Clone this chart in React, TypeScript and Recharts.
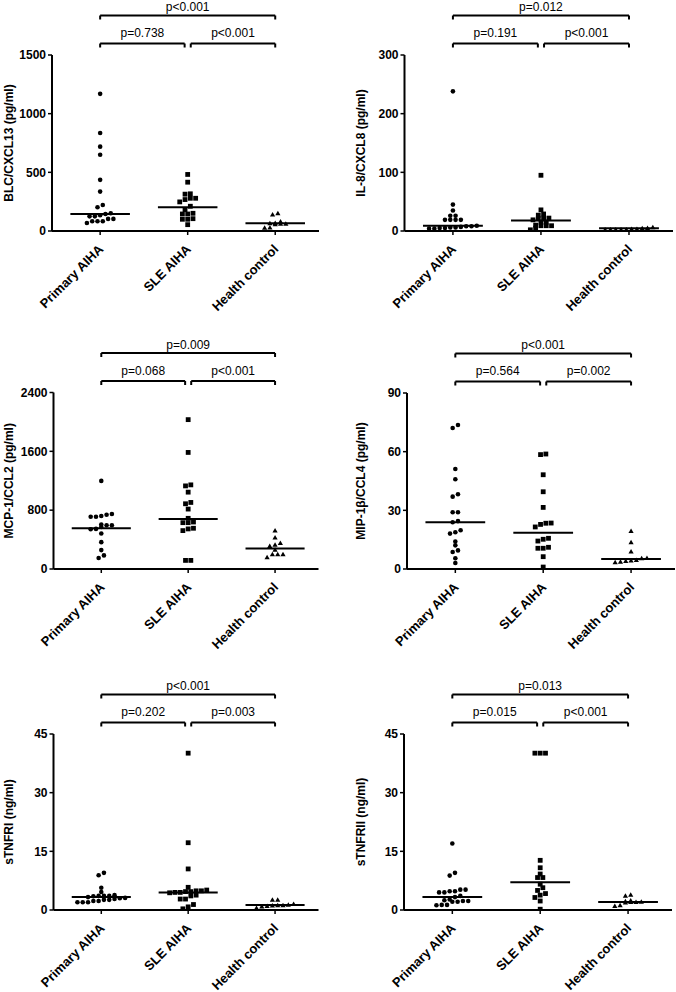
import { ReferenceLine, Scatter, ScatterChart, XAxis, YAxis } from "recharts";

// groups along the x axis
const groups = ["Primary AIHA", "SLE AIHA", "Health control"];

// BLC/CXCL13 (pg/ml)
const blcPrimary = [1169, 835, 719, 650, 436, 336, 222, 202, 151, 145, 134, 125, 125, 103, 103, 83, 83, 83, 68];
const blcSle = [482, 416, 317, 314, 279, 279, 268, 248, 211, 182, 151, 145, 145, 105, 100, 100, 54];
const blcHealth = [151, 140, 80, 68, 66, 62, 62, 57, 30, 26];
const blcMedians = [145, 202, 66];
const blcTicks = [0, 500, 1000, 1500];
const blcP = ["p=0.738", "p<0.001", "p<0.001"];

// IL-8/CXCL8 (pg/ml)
const il8Primary = [238, 45, 35, 26, 26, 19, 19, 19, 19, 9, 8, 8, 7, 6, 6, 5, 5, 4, 4];
const il8Sle = [95, 36, 29, 27, 22, 22, 21, 19, 15, 15, 10, 9, 9, 9, 5, 2];
const il8Health = [6.3, 5, 4.6, 3.4, 3.4, 2.3, 2.3, 2.3, 2.3, 2.3];
const il8Medians = [9, 18, 4.5];
const il8Ticks = [0, 100, 200, 300];
const il8P = ["p=0.191", "p<0.001", "p=0.012"];

// MCP-1/CCL2 (pg/ml)
const mcpPrimary = [1198, 747, 738, 720, 711, 711, 604, 595, 595, 572, 545, 540, 482, 365, 257, 185, 149];
const mcpSle = [2031, 1585, 1144, 1130, 1045, 905, 887, 815, 689, 639, 630, 630, 554, 545, 522, 117, 117];
const mcpHealth = [522, 428, 351, 329, 311, 261, 198, 198, 198, 158];
const mcpMedians = [554, 680, 279];
const mcpTicks = [0, 800, 1600, 2400];
const mcpP = ["p=0.068", "p<0.001", "p=0.009"];

// MIP-1β/CCL4 (pg/ml)
const mipPrimary = [73.6, 72.1, 51.1, 45.9, 38.2, 37, 29, 29, 24.5, 23.9, 19.8, 18.8, 18.1, 14.1, 12.1, 9.5, 8.7, 5.5, 3.1];
const mipSle = [58.8, 58.5, 48.2, 39.5, 31.5, 23.5, 23.4, 22.8, 21.5, 15.7, 15.2, 14.3, 11.1, 10.6, 10.6, 6.3, 1.0];
const mipHealth = [19.4, 13.6, 8.9, 5.6, 5.5, 4.6, 4.3, 4.1, 3.7, 3.4];
const mipMedians = [23.9, 18.6, 5.1];
const mipTicks = [0, 30, 60, 90];
const mipP = ["p=0.564", "p=0.002", "p<0.001"];

// sTNFRI (ng/ml)
const tnfr1Primary = [9.5, 8.9, 5.7, 4.6, 3.8, 3.6, 3.6, 3.6, 3.5, 3.3, 3.1, 3.0, 2.8, 2.6, 2.6, 2.3, 2.3, 2.0, 2.0, 2.0];
const tnfr1Sle = [40.1, 17.2, 10.5, 5.8, 5.1, 4.9, 4.9, 4.7, 4.7, 4.5, 4.5, 4.4, 3.8, 3.6, 2.8, 2.8, 1.4, 0.8, 0.3];
const tnfr1Health = [2.6, 2.6, 1.5, 1.3, 1.2, 1.2, 1.1, 1.0, 0.9, 0.5];
const tnfr1Medians = [3.3, 4.45, 1.25];
const tnfr1Ticks = [0, 15, 30, 45];
const tnfr1P = ["p=0.202", "p=0.003", "p<0.001"];

// sTNFRII (ng/ml)
const tnfr2Primary = [17.0, 9.5, 8.8, 5.2, 5.2, 4.8, 4.8, 4.5, 4.5, 3.6, 3.3, 2.7, 2.5, 2.3, 2.3, 2.1, 2.1, 1.3, 1.3, 1.2];
const tnfr2Sle = [40.1, 40.1, 40.1, 12.7, 10.8, 9.2, 8.3, 8.3, 6.6, 5.7, 5.0, 4.2, 3.8, 3.2, 2.3, 0.2];
const tnfr2Health = [3.9, 3.6, 2.4, 2.2, 2.1, 2.0, 2.0, 1.9, 1.2, 1.0];
const tnfr2Medians = [3.33, 7.1, 2.05];
const tnfr2Ticks = [0, 15, 30, 45];
const tnfr2P = ["p=0.015", "p<0.001", "p=0.013"];

const FONT = "'Liberation Sans', Arial, Helvetica, sans-serif";
const X_DOMAIN: [number, number] = [-0.55, 2.5];
const W = 338;
const X_AXIS_H = 70;

type Panel = {
  label: string;
  values: number[][];
  medians: number[];
  ticks: number[];
  pvals: string[];
  x0: number;
  y0: number;
  h: number;
  left: number;
  right: number;
  top: number;
  bottom: number;
  labelX: number;
};

const panels: Panel[] = [
  { label: "BLC/CXCL13 (pg/ml)", values: [blcPrimary, blcSle, blcHealth], medians: blcMedians, ticks: blcTicks, pvals: blcP,
    x0: 0, y0: 0, h: 330, left: 52, right: 319, top: 55, bottom: 231, labelX: 8.5 },
  { label: "IL-8/CXCL8 (pg/ml)", values: [il8Primary, il8Sle, il8Health], medians: il8Medians, ticks: il8Ticks, pvals: il8P,
    x0: 338, y0: 0, h: 330, left: 404.5, right: 673, top: 55, bottom: 231, labelX: 23 },
  { label: "MCP-1/CCL2 (pg/ml)", values: [mcpPrimary, mcpSle, mcpHealth], medians: mcpMedians, ticks: mcpTicks, pvals: mcpP,
    x0: 0, y0: 330, h: 330, left: 53.5, right: 318.5, top: 392.5, bottom: 569, labelX: 8.5 },
  { label: "MIP-1\u03b2/CCL4 (pg/ml)", values: [mipPrimary, mipSle, mipHealth], medians: mipMedians, ticks: mipTicks, pvals: mipP,
    x0: 338, y0: 330, h: 330, left: 407, right: 675, top: 393, bottom: 569, labelX: 23 },
  { label: "sTNFRI (ng/ml)", values: [tnfr1Primary, tnfr1Sle, tnfr1Health], medians: tnfr1Medians, ticks: tnfr1Ticks, pvals: tnfr1P,
    x0: 0, y0: 660, h: 332, left: 53.5, right: 318.5, top: 734, bottom: 910, labelX: 8.5 },
  { label: "sTNFRII (ng/ml)", values: [tnfr2Primary, tnfr2Sle, tnfr2Health], medians: tnfr2Medians, ticks: tnfr2Ticks, pvals: tnfr2P,
    x0: 338, y0: 660, h: 332, left: 404, right: 672, top: 734, bottom: 910, labelX: 23 },
];

// column-scatter layout: points close in value share a row and are spread sideways
function swarm(values: number[], pxPerUnit: number, catPx: number) {
  const order = values.map((_, i) => i).sort((a, b) => values[a] - values[b]);
  const rows: number[][] = [];
  let cur: number[] = [];
  let start = 0;
  let prev = 0;
  for (const i of order) {
    const v = values[i];
    if (cur.length && ((v - start) * pxPerUnit > 4.6 || (v - prev) * pxPerUnit > 3.5)) {
      rows.push(cur);
      cur = [];
    }
    if (!cur.length) start = v;
    cur.push(i);
    prev = v;
  }
  if (cur.length) rows.push(cur);
  const step = 5.3 / catPx;
  const off = new Array(values.length).fill(0);
  rows.forEach((r) => r.forEach((i, k) => (off[i] = (k - (r.length - 1) / 2) * step)));
  return off;
}

const Dot = (p: any) => <circle cx={p.cx} cy={p.cy} r={2.3} fill="#000" />;
const Sq = (p: any) => <rect x={p.cx - 2.4} y={p.cy - 2.4} width={4.8} height={4.8} fill="#000" />;
const Tri = (p: any) => (
  <polygon points={`${p.cx},${p.cy - 2.6} ${p.cx + 2.6},${p.cy + 1.9} ${p.cx - 2.6},${p.cy + 1.9}`} fill="#000" />
);
const shapes = [Dot, Sq, Tri];

const XTick = (p: any) => {
  const x = p.x + 4;
  const y = p.y + 13;
  return (
    <text x={x} y={y} transform={`rotate(-45 ${x} ${y})`} textAnchor="end" fontSize={13} fontWeight="bold" fontFamily={FONT} fill="#000">
      {groups[p.payload.value]}
    </text>
  );
};

function PanelChart({ p }: { p: Panel }) {
  const plotH = p.bottom - p.top;
  const catPx = (p.right - p.left) / (X_DOMAIN[1] - X_DOMAIN[0]);
  const max = p.ticks[p.ticks.length - 1];
  const ppu = plotH / max;
  const yLow = max + 11.5 / ppu;
  const yHigh = max + 39.5 / ppu;
  const drop = 4 / ppu;
  const brackets: [number, number, number, string, number][] = [
    [0, 0.965, yLow, p.pvals[0], 6.5],
    [1.035, 2, yLow, p.pvals[1], 6.5],
    [0, 2, yHigh, p.pvals[2], 4.5],
  ];
  const labelY = (p.top + p.bottom) / 2 - p.y0;
  const line = { stroke: "#000", strokeWidth: 2 };

  return (
    <div style={{ position: "absolute", left: p.x0, top: p.y0 }}>
      <ScatterChart
        width={W}
        height={p.h}
        margin={{ top: p.top - p.y0, right: p.x0 + W - p.right, bottom: p.y0 + p.h - p.bottom - X_AXIS_H, left: 0 }}
      >
        <XAxis
          type="number"
          dataKey="x"
          domain={X_DOMAIN}
          ticks={[0, 1, 2]}
          interval={0}
          allowDataOverflow
          height={X_AXIS_H}
          axisLine={line}
          tickLine={{ stroke: "#000", strokeWidth: 1.5 }}
          tickSize={4}
          tick={XTick}
        />
        <YAxis
          type="number"
          dataKey="y"
          domain={[0, max]}
          ticks={p.ticks}
          interval={0}
          allowDataOverflow
          width={p.left - p.x0}
          axisLine={line}
          tickLine={{ stroke: "#000", strokeWidth: 1.5 }}
          tickSize={4}
          tickMargin={2}
          tick={{ fill: "#000", fontSize: 12, fontWeight: "bold", fontFamily: FONT }}
          label={() => (
            <text
              x={p.labelX}
              y={labelY}
              transform={`rotate(-90 ${p.labelX} ${labelY})`}
              textAnchor="middle"
              dominantBaseline="central"
              fontSize={12}
              fontWeight="bold"
              fontFamily={FONT}
              fill="#000"
            >
              {p.label}
            </text>
          )}
        />
        {p.values.map((vals, g) => {
          const off = swarm(vals, ppu, catPx);
          const data = vals.map((v, i) => ({ x: g + off[i], y: v }));
          return <Scatter key={g} data={data} shape={shapes[g]} isAnimationActive={false} />;
        })}
        {p.medians.map((m, g) => (
          <ReferenceLine
            key={`m${g}`}
            segment={[{ x: g - 0.34, y: m }, { x: g + 0.34, y: m }]}
            {...line}
            ifOverflow="visible"
          />
        ))}
        {brackets.map(([xa, xb, yb, text, off], k) => [
          <ReferenceLine
            key={`b${k}`}
            segment={[{ x: xa, y: yb }, { x: xb, y: yb }]}
            {...line}
            ifOverflow="visible"
            label={{ value: text, position: "top", offset: off, fill: "#000", fontSize: 12, fontFamily: FONT }}
          />,
          <ReferenceLine key={`l${k}`} segment={[{ x: xa, y: yb }, { x: xa, y: yb - drop }]} {...line} ifOverflow="visible" />,
          <ReferenceLine key={`r${k}`} segment={[{ x: xb, y: yb }, { x: xb, y: yb - drop }]} {...line} ifOverflow="visible" />,
        ])}
      </ScatterChart>
    </div>
  );
}

export default function App() {
  return (
    <div style={{ position: "absolute", left: 0, top: 0, width: 676, height: 992, background: "#fff" }}>
      {panels.map((p, i) => (
        <PanelChart key={i} p={p} />
      ))}
    </div>
  );
}
